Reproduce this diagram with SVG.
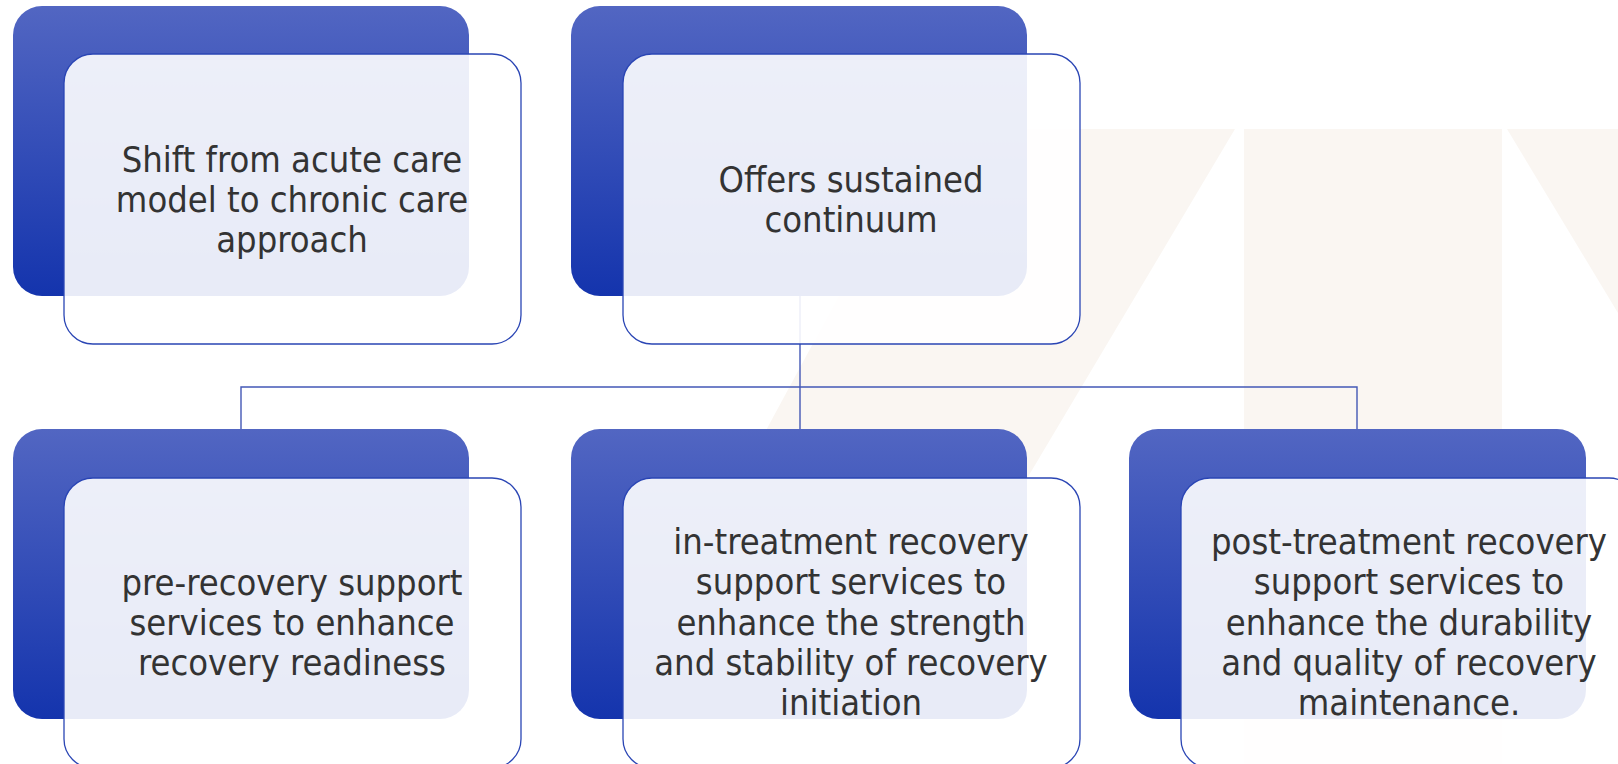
<svg xmlns="http://www.w3.org/2000/svg" width="1618" height="764" viewBox="0 0 1618 764">
<defs>
<linearGradient id="gBack" x1="0" y1="0" x2="0" y2="1">
<stop offset="0" stop-color="#5266C2"/>
<stop offset="1" stop-color="#1434AD"/>
</linearGradient>
<style>
.back{fill:url(#gBack);}
.front{fill:#FFFFFF;fill-opacity:0.9;stroke:#2A45B4;stroke-width:1.3;}
.lbl{font-family:"DejaVu Sans Condensed","DejaVu Sans",sans-serif;font-size:36px;fill:#333333;text-anchor:middle;}
.conn{fill:none;stroke:#4358B6;stroke-width:1.4;}
.wm{fill:#FAF6F2;}
</style>
</defs>
<rect width="1618" height="764" fill="#FFFFFF"/>
<g id="watermark">
<polygon class="wm" points="929,129 1235,129 884,719 610,719"/>
<rect class="wm" x="1244" y="129" width="258" height="635"/>
<polygon class="wm" points="1507,129 1618,129 1618,313"/>
</g>
<g id="connectors">
<path class="conn" d="M800,296 V387 M241,429 V387 H1357 V429 M800,387 V429"/>
</g>
<g id="node1">
<rect class="back" x="13" y="6" width="456" height="290" rx="29"/>
<rect class="front" x="64" y="54" width="457" height="290" rx="29"/>
<text class="lbl"><tspan x="292" y="172">Shift from acute care</tspan><tspan x="292" y="212">model to chronic care</tspan><tspan x="292" y="252">approach</tspan></text>
</g>
<g id="node2">
<rect class="back" x="571" y="6" width="456" height="290" rx="29"/>
<rect class="front" x="623" y="54" width="457" height="290" rx="29"/>
<text class="lbl"><tspan x="851" y="192">Offers sustained</tspan><tspan x="851" y="232">continuum</tspan></text>
</g>
<g id="node3">
<rect class="back" x="13" y="429" width="456" height="290" rx="29"/>
<rect class="front" x="64" y="478" width="457" height="290" rx="29"/>
<text class="lbl"><tspan x="292" y="595">pre-recovery support</tspan><tspan x="292" y="635">services to enhance</tspan><tspan x="292" y="675">recovery readiness</tspan></text>
</g>
<g id="node4">
<rect class="back" x="571" y="429" width="456" height="290" rx="29"/>
<rect class="front" x="623" y="478" width="457" height="290" rx="29"/>
<text class="lbl"><tspan x="851" y="554">in-treatment recovery</tspan><tspan x="851" y="594">support services to</tspan><tspan x="851" y="635">enhance the strength</tspan><tspan x="851" y="675">and stability of recovery</tspan><tspan x="851" y="715">initiation</tspan></text>
</g>
<g id="node5">
<rect class="back" x="1129" y="429" width="457" height="290" rx="29"/>
<rect class="front" x="1181" y="478" width="457" height="290" rx="29"/>
<text class="lbl"><tspan x="1409" y="554">post-treatment recovery</tspan><tspan x="1409" y="594">support services to</tspan><tspan x="1409" y="635">enhance the durability</tspan><tspan x="1409" y="675">and quality of recovery</tspan><tspan x="1409" y="715">maintenance.</tspan></text>
</g>
</svg>
